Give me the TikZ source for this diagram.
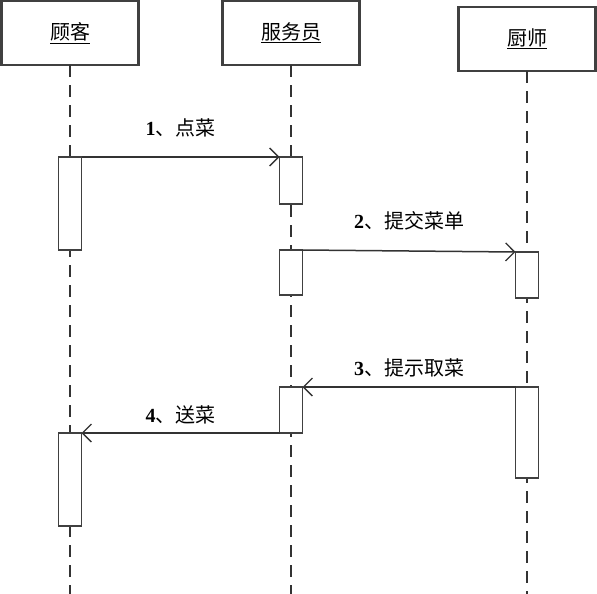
\documentclass[tikz,border=0pt]{standalone}
\usepackage{fontspec}
\setmainfont{Liberation Serif}
\newfontfamily\cjk{Noto Sans CJK SC}
\usetikzlibrary{arrows.meta}

\begin{document}
\begin{tikzpicture}[x=1pt, y=-1pt,
  obj/.style = {draw=black!75, line width=2.4pt, minimum width=137pt, minimum height=64pt,
    inner sep=0pt, outer sep=0pt, font=\fontsize{20}{20}\cjk},
  life/.style = {draw=black!80, line width=2pt, dash pattern=on 12pt off 8pt},
  act/.style = {draw=black!75, fill=white, line width=1.8pt, minimum width=23pt,
    inner sep=0pt, outer sep=0pt, anchor=north},
  msg/.style = {draw=black!80, line width=1.5pt,
    -{Straight Barb[length=9pt, width=18pt, line width=1.3pt]}},
  lbl/.style = {midway, font=\fontsize{20}{20}\selectfont}]
\useasboundingbox (0,0) rectangle (597,594);
\coordinate (bot) at (0,594);
% objects
\node[obj] (guke) at (70,33) {\underline{顾客}};
\node[obj] (fuwu) at (291,33) {\underline{服务员}};
\node[obj] (chushi) at (527,39) {\underline{厨师}};
% lifelines
\draw[life] (guke.south) -- (guke.south |- bot);
\draw[life] (fuwu.south) -- (fuwu.south |- bot);
\draw[life] (chushi.south) -- (chushi.south |- bot);
% activations
\node[act, minimum height=93pt] (ga1) at (70,157) {};
\node[act, minimum height=47pt] (fa1) at (291,157) {};
\node[act, minimum height=45pt] (fa2) at (291,250) {};
\node[act, minimum height=46pt] (ca1) at (527,252) {};
\node[act, minimum height=91pt] (ca2) at (527,387) {};
\node[act, minimum height=46pt] (fa3) at (291,387) {};
\node[act, minimum height=93pt] (ga2) at (70,433) {};
% messages
\draw[msg] (ga1.north east) -- node[lbl, yshift=29pt] {\textbf{1}{\cjk 、点菜}} (fa1.north west);
\draw[msg] (fa2.north east) -- node[lbl, yshift=30pt] {\textbf{2}{\cjk 、提交菜单}} (ca1.north west);
\draw[msg] (ca2.north west) -- node[lbl, yshift=19pt] {\textbf{3}{\cjk 、提示取菜}} (fa3.north east);
\draw[msg] (fa3.south west) -- node[lbl, yshift=18pt] {\textbf{4}{\cjk 、送菜}} (ga2.north east);
\end{tikzpicture}
\end{document}
